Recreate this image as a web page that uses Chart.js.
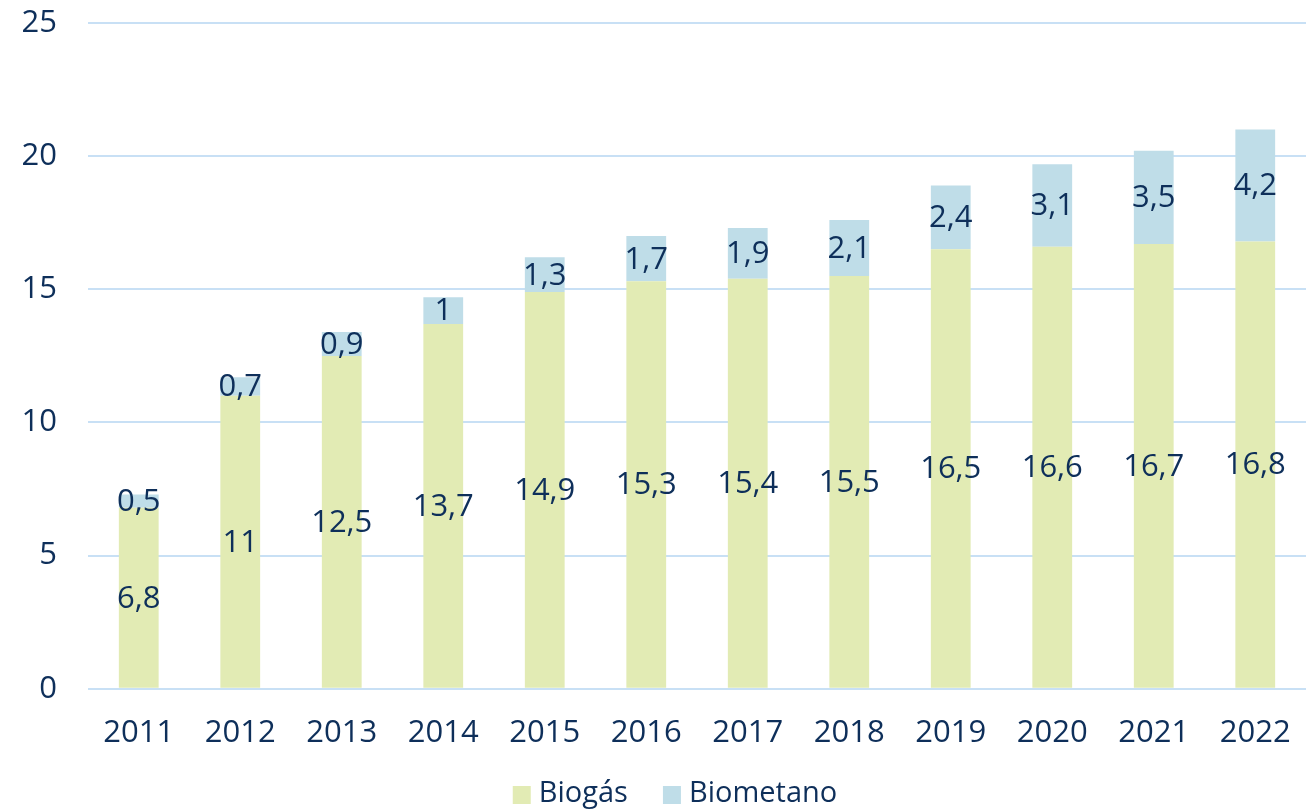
<!DOCTYPE html>
<html><head><meta charset="utf-8">
<script src="https://cdn.jsdelivr.net/npm/chart.js@4"></script>
<style>html,body{margin:0;padding:0;background:#fff}#wrap{width:1314px;height:810px}</style>
</head><body><div id="wrap"><canvas id="c" width="1314" height="810"></canvas></div>
<script>
const categories = ['2011','2012','2013','2014','2015','2016','2017','2018','2019','2020','2021','2022'];
const biogas = [6.8, 11, 12.5, 13.7, 14.9, 15.3, 15.4, 15.5, 16.5, 16.6, 16.7, 16.8];
const biometano = [0.5, 0.7, 0.9, 1, 1.3, 1.7, 1.9, 2.1, 2.4, 3.1, 3.5, 4.2];
const yTicks = [0, 5, 10, 15, 20, 25];

const navy = '#0E2F5A';
const FONT = '"Open Sans", sans-serif';

const labelPlugin = {
  id: 'barLabels',
  afterDatasetsDraw(chart) {
    const ctx = chart.ctx;
    ctx.save();
    ctx.font = '31px ' + FONT;
    ctx.fillStyle = navy;
    ctx.textAlign = 'center';
    ctx.textBaseline = 'middle';
    chart.data.datasets.forEach((ds, di) => {
      const meta = chart.getDatasetMeta(di);
      meta.data.forEach((bar, i) => {
        const v = ds.data[i];
        const y = (bar.y + bar.base) / 2 + 1;
        ctx.fillText(String(v).replace('.', ','), bar.x, y);
      });
    });
    ctx.restore();
  }
};

const legendPlugin = {
  id: 'customLegend',
  afterDraw(chart) {
    const ctx = chart.ctx;
    ctx.save();
    ctx.font = '29px ' + FONT;
    const ds = chart.data.datasets;
    const box = 18, gapText = 8, gapItem = 35;
    const widths = ds.map(d => ctx.measureText(d.label).width);
    let total = 0;
    widths.forEach((w, i) => { total += box + gapText + w + (i < widths.length - 1 ? gapItem : 0); });
    let x = 675 - total / 2;
    const cy = 794;
    ctx.textBaseline = 'middle';
    ctx.textAlign = 'left';
    ds.forEach((d, i) => {
      ctx.fillStyle = d.backgroundColor;
      ctx.fillRect(x, cy - box / 2 + 1, box, box);
      x += box + gapText;
      ctx.fillStyle = navy;
      ctx.fillText(d.label, x, cy);
      x += widths[i] + gapItem;
    });
    ctx.restore();
  }
};

new Chart(document.getElementById('c'), {
  type: 'bar',
  data: {
    labels: categories,
    datasets: [
      { label: 'Biogás', data: biogas, backgroundColor: '#E2EBB4', barPercentage: 0.8, categoryPercentage: 0.49 },
      { label: 'Biometano', data: biometano, backgroundColor: '#BFDDE8', barPercentage: 0.8, categoryPercentage: 0.49 }
    ]
  },
  options: {
    responsive: false,
    animation: false,
    layout: { padding: { left: 22, right: 8, top: 0, bottom: 40 } },
    plugins: {
      legend: { display: false },
      tooltip: { enabled: false }
    },
    scales: {
      x: {
        stacked: true,
        grid: { display: false },
        border: { display: false },
        ticks: { font: { family: FONT, size: 31 }, color: navy, padding: 18 }
      },
      y: {
        stacked: true,
        min: 0, max: 25,
        afterBuildTicks: (axis) => { axis.ticks = yTicks.map(v => ({ value: v })); },
        afterFit: (axis) => { axis.width = 66; axis.paddingTop = 23; axis.paddingBottom = 19; },
        grid: { color: '#C8E0F5', lineWidth: 2, drawTicks: false },
        border: { display: false },
        ticks: { font: { family: FONT, size: 31 }, color: navy, padding: 31 }
      }
    }
  },
  plugins: [labelPlugin, legendPlugin]
});
</script></body></html>
